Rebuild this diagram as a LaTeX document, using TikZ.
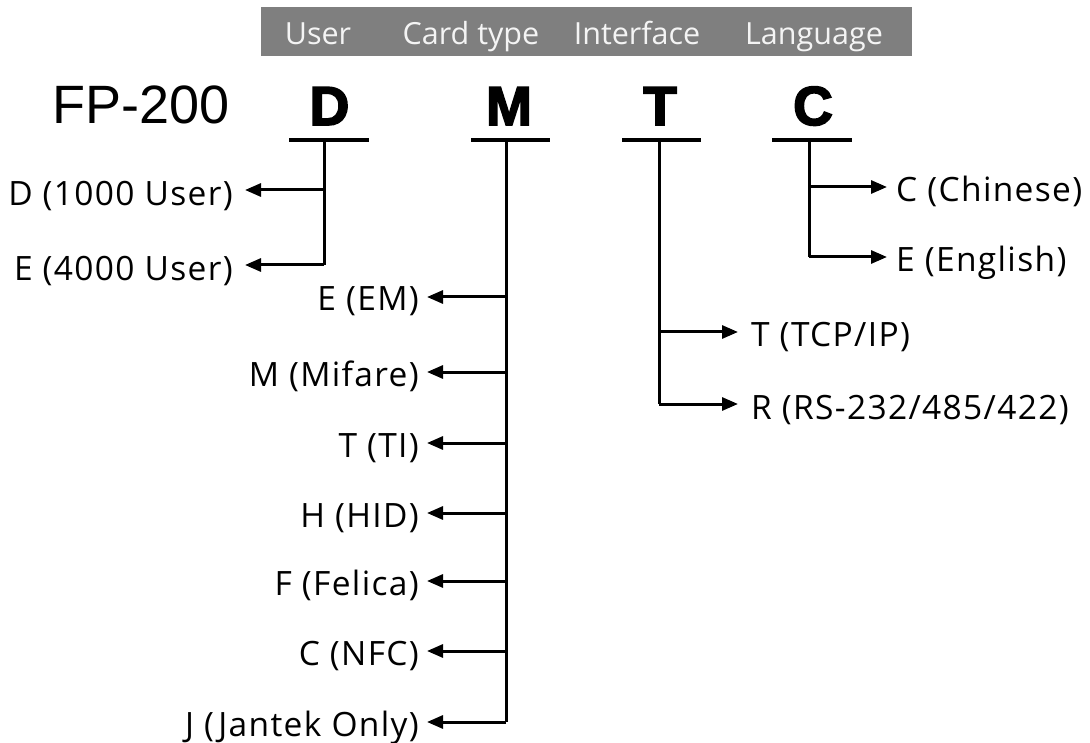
\documentclass[tikz,border=0pt]{standalone}
\usepackage{fontspec}
\setmainfont{Open Sans}
\newfontfamily\labfont{Open Sans}[LetterSpace=4]
\newfontfamily\headfont{Open Sans}
\newfontfamily\fpfont{Liberation Sans}
\newfontfamily\codefont{Liberation Sans Bold}[FakeBold=3]
\usetikzlibrary{arrows.meta}
\definecolor{bargray}{HTML}{7F7F7F}
\definecolor{headtxt}{HTML}{F4F4F4}
\tikzset{
  lab/.style={inner sep=0pt, font=\labfont\fontsize{33.5}{38}\selectfont},
  head/.style={inner sep=0pt, anchor=base, text=headtxt, font=\headfont\fontsize{30.5}{34}\selectfont},
  code/.style={inner sep=0pt, anchor=base, font=\codefont\fontsize{55}{60}\selectfont},
  uline/.style={line width=4pt},
  stem/.style={line width=3pt},
  arr/.style={line width=3pt, -{Triangle[length=16pt,width=13pt]}},
}
\begin{document}
\begin{tikzpicture}[x=1pt,y=-1pt]
\useasboundingbox (0,0) rectangle (1090,743);
% header bar
\fill[bargray] (261,7) rectangle (912,56);
\node[head] (hU) at (318,45) {User};
\node[head] (hC) at (471,45) {Card type};
\node[head] (hI) at (637,45) {Interface};
\node[head] (hL) at (814,45) {Language};
% model code
\node[inner sep=0pt, anchor=base west, font=\fpfont\fontsize{54}{60}\selectfont] (fp) at (52,124) {FP-200};
\node[code] (cD) at (329.5,125) {D};
\node[code] (cM) at (509,125) {M};
\node[code] (cT) at (660,125) {T};
\node[code] (cC) at (813,125) {C};
% underlines
\draw[uline] (289,140) -- (369,140);
\draw[uline] (471,140) -- (550,140);
\draw[uline] (622,140) -- (701,140);
\draw[uline] (772,140) -- (852,140);
% stem tops
\coordinate (vD) at (324,140);
\coordinate (vM) at (506,140);
\coordinate (vT) at (659,140);
\coordinate (vC) at (809,140);
% D branch
\coordinate (tD1) at (245,190);
\coordinate (tD2) at (245,265);
\draw[stem] (vD) -- (vD |- tD2);
\draw[arr] (vD |- tD1) -- (tD1);
\draw[arr] (vD |- tD2) -- (tD2);
\node[lab, anchor=base east] (lD1) at ([xshift=-12pt,yshift=-16pt]tD1) {D (1000 User)};
\node[lab, anchor=base east] (lD2) at ([xshift=-12pt,yshift=-16pt]tD2) {E (4000 User)};
% M branch
\coordinate (tM1) at (427,297);
\coordinate (tM2) at (427,372);
\coordinate (tM3) at (427,443);
\coordinate (tM4) at (427,513);
\coordinate (tM5) at (427,581);
\coordinate (tM6) at (427,651);
\coordinate (tM7) at (427,722);
\draw[stem] (vM) -- (vM |- tM7);
\foreach \i/\t in {1/E (EM),2/M (Mifare),3/T (TI),4/H (HID),5/F (Felica),6/C (NFC),7/J (Jantek Only)}{
  \draw[arr] (vM |- tM\i) -- (tM\i);
  \node[lab, anchor=base east] (lM\i) at ([xshift=-8pt,yshift=-14pt]tM\i) {\t};
}
% T branch
\coordinate (tT1) at (738,332);
\coordinate (tT2) at (738,404);
\draw[stem] (vT) -- (vT |- tT2);
\draw[arr] (vT |- tT1) -- (tT1);
\draw[arr] (vT |- tT2) -- (tT2);
\node[lab, anchor=base west] (lT1) at ([xshift=13pt,yshift=-15pt]tT1) {T (TCP/IP)};
\node[lab, anchor=base west] (lT2) at ([xshift=13pt,yshift=-15pt]tT2) {R (RS-232/485/422)};
% C branch
\coordinate (tC1) at (887,187);
\coordinate (tC2) at (887,257);
\draw[stem] (vC) -- (vC |- tC2);
\draw[arr] (vC |- tC1) -- (tC1);
\draw[arr] (vC |- tC2) -- (tC2);
\node[lab, anchor=base west] (lC1) at ([xshift=9pt,yshift=-15pt]tC1) {C (Chinese)};
\node[lab, anchor=base west] (lC2) at ([xshift=9pt,yshift=-15pt]tC2) {E (English)};
\end{tikzpicture}
\end{document}
